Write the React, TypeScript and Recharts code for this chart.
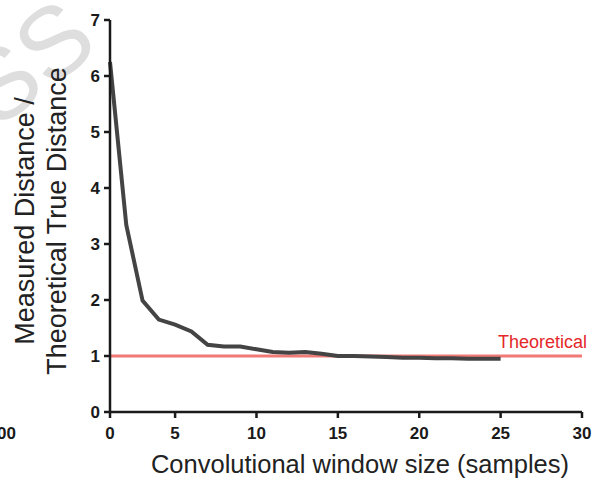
import { LineChart, Line, XAxis, YAxis, ReferenceLine, Label } from "recharts";

// window size (samples) and measured / theoretical distance ratio
const windowSizes = [1, 2, 3, 4, 5, 6, 7, 8, 9, 10, 11, 12, 13, 14, 15, 16, 17, 18, 19, 20, 21, 22, 23, 24, 25];
const distanceRatio = [6.25, 3.34, 1.99, 1.65, 1.56, 1.44, 1.2, 1.17, 1.17, 1.12, 1.07, 1.06, 1.07, 1.04, 1.0, 1.0, 0.99, 0.98, 0.97, 0.97, 0.96, 0.96, 0.95, 0.95, 0.95];

const xTicks = [1, 5, 10, 15, 20, 25, 30];
const xTickLabels = ["0", "5", "10", "15", "20", "25", "30"];
const yTicks = [0, 1, 2, 3, 4, 5, 6, 7];
const theoreticalValue = 1;

const data = windowSizes.map((w, i) => ({ w, ratio: distanceRatio[i] }));

const FONT = "'Liberation Sans', Arial, sans-serif";

const XTick = (props: any) => {
    const { x, y, payload } = props;
    return (
        <text x={x} y={y + 19} textAnchor="middle" fontFamily={FONT} fontSize={17} fontWeight={700} fill="#1a1a1a">
            {xTickLabels[xTicks.indexOf(payload.value)]}
        </text>
    );
};

const YTick = (props: any) => {
    const { x, y, payload } = props;
    return (
        <text x={x - 2} y={y + 6} textAnchor="end" fontFamily={FONT} fontSize={17} fontWeight={700} fill="#1a1a1a">
            {payload.value}
        </text>
    );
};

const YTitle = (props: any) => {
    const vb = props.viewBox;
    const cy = vb.y + vb.height / 2 + 5;
    return (
        <g fontFamily={FONT} fontSize={27} fill="#222">
            <text x={34} y={cy} textAnchor="middle" transform={`rotate(-90 34 ${cy})`}>Measured Distance /</text>
            <text x={66} y={cy} textAnchor="middle" transform={`rotate(-90 66 ${cy})`}>Theoretical True Distance</text>
        </g>
    );
};

const XTitle = () => (
    <text x={360} y={473} textAnchor="middle" fontFamily={FONT} fontSize={25.5} fill="#222">
        Convolutional window size (samples)
    </text>
);

const TheoreticalLabel = (props: any) => {
    const vb = props.viewBox;
    return (
        <text x={vb.x + vb.width + 5} y={vb.y - 8} textAnchor="end" fontFamily={FONT} fontSize={18} fill="#e4282a">
            Theoretical
        </text>
    );
};

export default function App() {
    return (
        <div style={{ position: "absolute", left: 0, top: 0, width: 594, height: 482, background: "#fff", overflow: "hidden" }}>
            {/* 背景の透かし文字 */}
            <svg width={594} height={482} style={{ position: "absolute", left: 0, top: 0 }}>
                <text x={-40} y={95} fontSize={100} fill="#dedede" fontFamily={FONT} transform="rotate(-38 30 60)">SS</text>
                <text x={-3} y={439} fontSize={17} fontWeight={700} fill="#1a1a1a" fontFamily={FONT}>00</text>
            </svg>
            <div style={{ position: "absolute", left: 0, top: 0 }}>
                <LineChart width={594} height={482} data={data} margin={{ top: 20, right: 12, bottom: 30, left: 70 }}>
                    <XAxis
                        dataKey="w"
                        type="number"
                        domain={[1, 30]}
                        ticks={xTicks}
                        axisLine={{ stroke: "#1a1a1a", strokeWidth: 2.5 }}
                        tickLine={{ stroke: "#1a1a1a", strokeWidth: 2.5 }}
                        tickSize={6}
                        tick={<XTick />}
                        height={40}
                    >
                        <Label content={XTitle} />
                    </XAxis>
                    <YAxis
                        type="number"
                        domain={[0, 7]}
                        ticks={yTicks}
                        axisLine={{ stroke: "#1a1a1a", strokeWidth: 2.5 }}
                        tickLine={{ stroke: "#1a1a1a", strokeWidth: 2.5 }}
                        tickSize={6}
                        tick={<YTick />}
                        width={40}
                    >
                        <Label content={YTitle} />
                    </YAxis>
                    <ReferenceLine
                        y={theoreticalValue}
                        stroke="#f07a76"
                        strokeWidth={3}
                        label={<TheoreticalLabel />}
                    />
                    <Line
                        dataKey="ratio"
                        stroke="#444"
                        strokeWidth={4}
                        dot={false}
                        type="linear"
                        isAnimationActive={false}
                    />
                </LineChart>
            </div>
        </div>
    );
}
